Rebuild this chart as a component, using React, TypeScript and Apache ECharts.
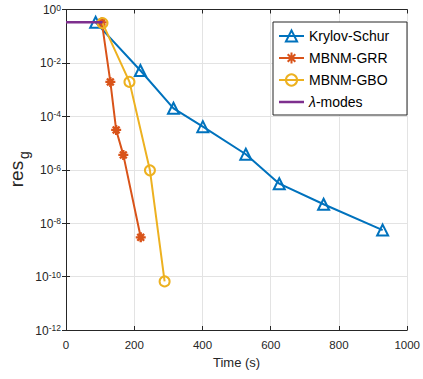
import { useEffect, useRef } from 'react';
import * as echarts from 'echarts';

const ksTime = [87, 218, 315, 401, 527, 625, 755, 928];
const ksRes = [0.33, 5.2e-3, 2.0e-4, 4.1e-5, 3.8e-6, 3.0e-7, 5.1e-8, 5.5e-9];
const grrTime = [105, 130, 147, 168, 219];
const grrRes = [0.33, 1.95e-3, 3.1e-5, 3.6e-6, 2.95e-9];
const gboTime = [107, 186, 246, 289];
const gboRes = [0.31, 1.95e-3, 9.5e-7, 6.6e-11];
const lamTime = [0, 107];
const lamRes = [0.33, 0.33];

const seriesNames = ['Krylov-Schur', 'MBNM-GRR', 'MBNM-GBO', 'λ-modes'];
const colors = ['#0072BD', '#D95319', '#EDB120', '#7E2F8E'];

const xMin = 0;
const xMax = 1000;
const xInterval = 200;
const yMin = 1e-12;
const yMax = 1;

const FONT = '"Liberation Sans", Arial, Helvetica, sans-serif';
const AXIS = '#262626';
const GRID = '#e3e3e3';

const zip = (a: number[], b: number[]) => a.map((v, i) => [v, b[i]]);

const asterisk = 'path://M5,0L5,10M0,5L10,5M1.6,1.6L8.4,8.4M1.6,8.4L8.4,1.6';

export default function App() {
  const ref = useRef<HTMLDivElement>(null);
  useEffect(() => {
    const chart = echarts.init(ref.current!, null, { renderer: 'svg' });
    const yLabelFmt = (v: number) => {
      const e = Math.round(Math.log10(v));
      return '{b|10}{s|' + e + '}';
    };
    const option: any = {
      animation: false,
      textStyle: { fontFamily: FONT },
      grid: { left: 66, right: 10, top: 8, bottom: 49, show: false },
      xAxis: [
        {
          type: 'value',
          min: xMin,
          max: xMax,
          interval: xInterval,
          position: 'bottom',
          axisLine: { show: true, lineStyle: { color: AXIS, width: 1 } },
          axisTick: { show: true, inside: true, length: 4, lineStyle: { color: AXIS } },
          axisLabel: {
            color: '#262626',
            fontSize: 11.5,
            margin: 9,
            fontFamily: FONT,
            formatter: (v: number) => String(v),
          },
          splitLine: { show: true, lineStyle: { color: GRID, width: 1 } },
          name: 'Time (s)',
          nameLocation: 'middle',
          nameGap: 26,
          nameTextStyle: { color: '#262626', fontSize: 13, fontFamily: FONT },
        },
        {
          type: 'value',
          min: xMin,
          max: xMax,
          interval: xInterval,
          position: 'top',
          axisLine: { show: true, lineStyle: { color: AXIS, width: 1 } },
          axisTick: { show: true, inside: true, length: 4, lineStyle: { color: AXIS } },
          axisLabel: { show: false },
          splitLine: { show: false },
        },
      ],
      yAxis: [
        {
          type: 'log',
          logBase: 10,
          min: yMin,
          max: yMax,
          interval: 2,
          position: 'left',
          axisLine: { show: true, lineStyle: { color: AXIS, width: 1 } },
          axisTick: { show: true, inside: true, length: 4, lineStyle: { color: AXIS } },
          minorTick: { show: false },
          axisLabel: {
            formatter: yLabelFmt,
            margin: 5,
            rich: {
              b: { fontSize: 12, color: '#262626', fontFamily: FONT, verticalAlign: 'bottom', lineHeight: 13, padding: [4, 0, 0, 0] },
              s: { fontSize: 8.5, color: '#262626', fontFamily: FONT, verticalAlign: 'top', lineHeight: 9 },
            },
          },
          splitLine: { show: true, lineStyle: { color: GRID, width: 1 } },
        },
        {
          type: 'log',
          logBase: 10,
          min: yMin,
          max: yMax,
          interval: 2,
          position: 'right',
          axisLine: { show: true, lineStyle: { color: AXIS, width: 1 } },
          axisTick: { show: true, inside: true, length: 4, lineStyle: { color: AXIS } },
          axisLabel: { show: false },
          splitLine: { show: false },
        },
      ],
      legend: {
        data: [
          { name: seriesNames[0] },
          { name: seriesNames[1] },
          { name: seriesNames[2] },
          { name: seriesNames[3], icon: 'path://M0,0L25,0L25,2.5L0,2.5Z', itemStyle: { color: colors[3] } },
        ],
        orient: 'vertical',
        left: 273,
        top: 22,
        padding: [7, 5, 7, 5],
        itemGap: 8,
        itemWidth: 25,
        itemHeight: 14,
        z: 20,
        textStyle: {
          fontSize: 14,
          color: '#000',
          fontFamily: FONT,
          rich: { i: { fontStyle: 'italic', fontSize: 14, color: '#000', fontFamily: FONT } },
        },
        formatter: (name: string) => (name === 'λ-modes' ? '{i|λ}-modes' : name),
      },
      graphic: [
        {
          type: 'rect',
          z: 10,
          shape: { x: 273, y: 22, width: 134, height: 93 },
          style: { fill: '#fff', stroke: AXIS, lineWidth: 1 },
        },
        {
          type: 'text',
          x: 16,
          y: 174,
          rotation: Math.PI / 2,
          style: {
            text: 'res',
            fontSize: 19,
            fontFamily: FONT,
            fill: '#262626',
            align: 'center',
            verticalAlign: 'middle',
          },
        },
        {
          type: 'text',
          x: 24,
          y: 155,
          rotation: Math.PI / 2,
          style: {
            text: 'g',
            fontSize: 14,
            fontFamily: FONT,
            fill: '#262626',
            align: 'center',
            verticalAlign: 'middle',
          },
        },
      ],
      series: [
        {
          name: seriesNames[0],
          type: 'line',
          data: zip(ksTime, ksRes),
          symbol: 'triangle',
          symbolSize: 11,
          lineStyle: { color: colors[0], width: 2 },
          itemStyle: { color: 'rgba(255,255,255,0)', borderColor: colors[0], borderWidth: 2 },
          z: 3,
        },
        {
          name: seriesNames[1],
          type: 'line',
          data: zip(grrTime, grrRes),
          symbol: asterisk,
          symbolSize: 10,
          lineStyle: { color: colors[1], width: 2 },
          itemStyle: { color: colors[1], borderColor: colors[1], borderWidth: 2.4 },
          z: 4,
        },
        {
          name: seriesNames[2],
          type: 'line',
          data: zip(gboTime, gboRes),
          symbol: 'circle',
          symbolSize: 10,
          lineStyle: { color: colors[2], width: 2 },
          itemStyle: { color: 'rgba(255,255,255,0)', borderColor: colors[2], borderWidth: 2 },
          z: 5,
        },
        {
          name: seriesNames[3],
          type: 'line',
          data: zip(lamTime, lamRes),
          symbol: 'none',
          lineStyle: { color: colors[3], width: 2.5 },
          itemStyle: { color: colors[3] },
          z: 6,
        },
      ],
    };
    chart.setOption(option);
    return () => chart.dispose();
  }, []);
  return (
    <div
      ref={ref}
      style={{ width: 423, height: 379, position: 'absolute', left: 0, top: 0, background: '#fff' }}
    />
  );
}
